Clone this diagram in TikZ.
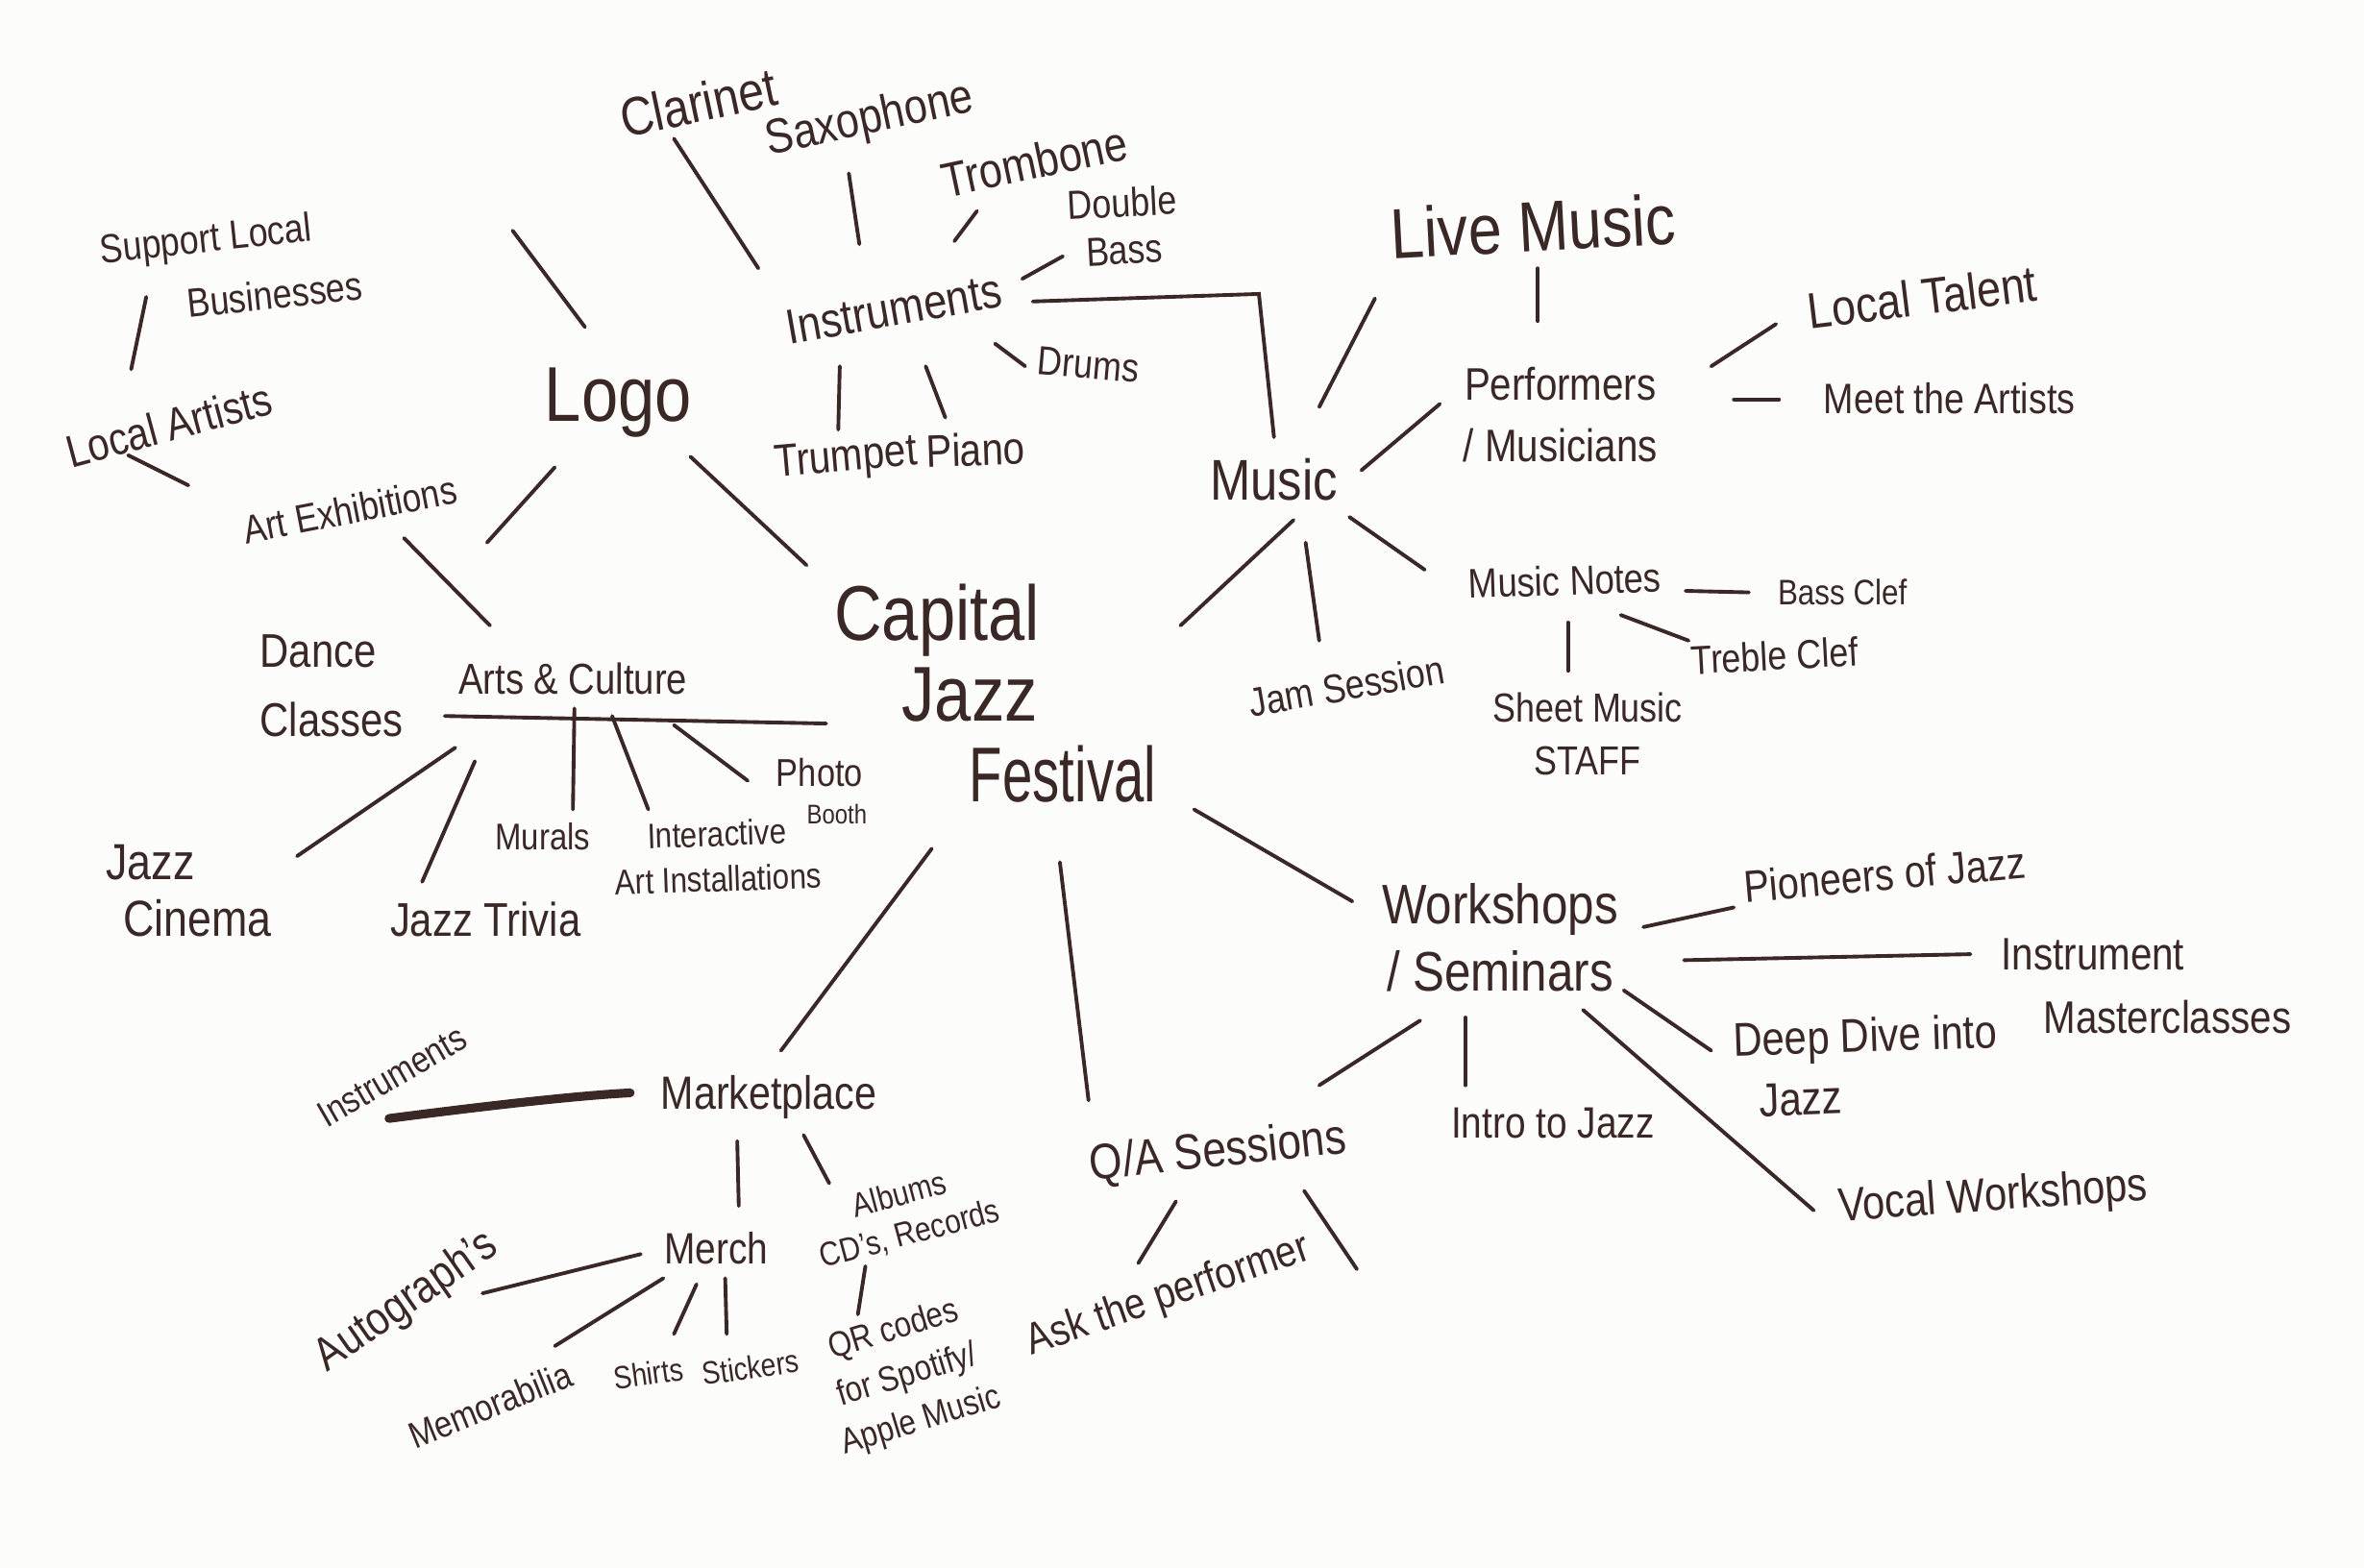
\documentclass[tikz,border=0pt]{standalone}
\usepackage{graphicx}
\usepackage{fontspec}
\setmainfont[FakeStretch=0.85]{Liberation Sans}
\definecolor{ink}{RGB}{58,40,38}
\definecolor{paper}{RGB}{252,252,251}
\tikzset{
  lbl/.style={text=ink, inner sep=0.5pt},
  fs/.style 2 args={font=\fontsize{#1}{#2}\selectfont},
  conn/.style={draw=ink, line width=1.1pt, line cap=round},
  thick conn/.style={draw=ink, line width=2.6pt, line cap=round}
}
\begin{document}
\begin{tikzpicture}[x=0.015689cm, y=-0.015689cm]
\fill[paper] (0,0) rectangle (1568,1040);
\useasboundingbox (0,0) rectangle (1568,1040);

% ---------- centre ----------
\node[lbl, fs={23}{24}, align=left, anchor=west, inner sep=0] (cjf) at (553,460) {Capital\\\hspace*{20pt}Jazz\\\hspace*{40pt}\scalebox{0.82}[1]{Festival}};

% ---------- logo / arts ----------
\node[lbl, fs={23}{26}] (logo) at (410,267) {Logo};
\node[lbl, fs={12}{18.7}, align=left, anchor=west, inner sep=0, rotate=6] (support) at (68,186) {Support Local\\\hspace*{24pt}Businesses};
\node[lbl, fs={13.5}{16}, rotate=15] (localart) at (112,282) {Local Artists};
\node[lbl, fs={11.8}{14}, rotate=11] (artex) at (232,338) {Art Exhibitions};
\node[lbl, fs={14}{20.5}, align=left] (dance) at (220,455) {Dance\\Classes};
\node[lbl, fs={12.8}{15}] (ac) at (380,450) {Arts \& Culture};
\node[lbl, fs={15}{17}, align=left, anchor=west, inner sep=0] (cinema) at (70,591) {Jazz\\\hspace*{5pt}Cinema};
\node[lbl, fs={14}{16}] (trivia) at (322,610) {Jazz Trivia};
\node[lbl, fs={11}{13}] (murals) at (360,555) {Murals};
\node[lbl, fs={10.5}{13.4}, align=center, rotate=2] (inter) at (476,568) {Interactive\\Art Installations};
\node[lbl, fs={11.5}{11}, align=left] (photo) at (545,525) {Photo\\{\fontsize{8}{9}\selectfont\hspace*{9pt}Booth}};

% ---------- instruments ----------
\node[lbl, fs={14.5}{17}, rotate=10] (instr) at (593,205) {Instruments};
\node[lbl, fs={16}{18}, rotate=12] (clar) at (463,68) {Clarinet};
\node[lbl, fs={14.5}{17}, rotate=12] (sax) at (577,80) {Saxophone};
\node[lbl, fs={14.5}{17}, rotate=12] (tromb) at (686,107) {Trombone};
\node[lbl, fs={12}{14}, align=center, rotate=3] (dbass) at (745,150) {Double\\Bass};
\node[lbl, fs={12}{14}, rotate=-5] (drums) at (722,242) {Drums};
\node[lbl, fs={13.5}{16}, rotate=5] (trumpet) at (561,305) {Trumpet};
\node[lbl, fs={13.5}{16}, rotate=2] (piano) at (647,298) {Piano};

% ---------- music ----------
\node[lbl, fs={17}{20}] (music) at (845,318) {Music};
\node[lbl, fs={21}{24}, rotate=3] (livemusic) at (1017,150) {Live Music};
\node[lbl, fs={13.5}{18}, align=center] (perf) at (1035,275) {Performers\\/ Musicians};
\node[lbl, fs={15}{17}, rotate=7] (localtalent) at (1275,197) {Local Talent};
\node[lbl, fs={12.6}{15}] (meet) at (1293,264) {Meet the Artists};
\node[lbl, fs={12.2}{14}, rotate=2] (musicnotes) at (1038,385) {Music Notes};
\node[lbl, fs={10.5}{12}] (bassclef) at (1222,393) {Bass Clef};
\node[lbl, fs={12}{14}, rotate=3] (trebleclef) at (1177,435) {Treble Clef};
\node[lbl, fs={12}{15.6}, align=center] (sheet) at (1053,487) {Sheet Music\\STAFF};
\node[lbl, fs={12}{14}, rotate=10] (jam) at (893,455) {Jam Session};

% ---------- workshops ----------
\node[lbl, fs={16.5}{20}, align=center] (work) at (995,622) {Workshops\\/ Seminars};
\node[lbl, fs={13.3}{15}, rotate=5] (pioneers) at (1250,580) {Pioneers of Jazz};
\node[lbl, fs={13.5}{18.7}, align=left, anchor=west, inner sep=0] (instmaster) at (1327,654) {Instrument\\\hspace*{12.5pt}Masterclasses};
\node[lbl, fs={14}{18}, align=left, anchor=west, inner sep=0, rotate=2] (deepdive) at (1150,710) {Deep Dive into\\\hspace*{7pt}Jazz};
\node[lbl, fs={14}{16}, rotate=4] (vocal) at (1322,795) {Vocal Workshops};
\node[lbl, fs={13}{15}] (intro) at (1030,745) {Intro to Jazz};
\node[lbl, fs={14.8}{17}, rotate=6] (qa) at (808,765) {Q/A Sessions};
\node[lbl, fs={13}{15}, rotate=19] (ask) at (775,860) {Ask the performer};

% ---------- marketplace ----------
\node[lbl, fs={13.8}{16}] (market) at (510,728) {Marketplace};
\node[lbl, fs={11}{13}, rotate=30] (instr2) at (260,714) {Instruments};
\node[lbl, fs={13}{15}] (merch) at (475,828) {Merch};
\node[lbl, fs={10}{12}, align=center, rotate=15] (albums) at (600,806) {Albums\\CD's, Records};
\node[lbl, fs={13.8}{16}, rotate=35] (autog) at (270,864) {Autograph's};
\node[lbl, fs={11}{13}, rotate=22] (memor) at (325,932) {Memorabilia};
\node[lbl, fs={9.5}{12}, rotate=8] (shirts) at (430,911) {Shirts};
\node[lbl, fs={9.5}{12}, rotate=8] (stickers) at (498,907) {Stickers};
\node[lbl, fs={10.5}{14}, align=center, rotate=17] (qr) at (602,913) {QR codes\\for Spotify/\\Apple Music};

% free ends
\coordinate (logofree) at (340,153);
\coordinate (qafree) at (900,842);

% ---------- connectors ----------
% logo / arts
\draw[conn] ([shift={(48,36)}]logo.center) -- ([shift={(-18,-85)}]cjf.west);
\draw[conn] ([shift={(-22,-50)}]logo.center) -- (logofree);
\draw[conn] ([shift={(-42,43)}]logo.center) -- ([shift={(91,22)}]artex.center);
\draw[conn] ([shift={(36,19)}]artex.center) -- ([shift={(-55,-35)}]ac.center);
\draw[conn] ([shift={(-27,20)}]localart.center) -- ([shift={(-107,-16)}]artex.center);
\draw[conn] ([shift={(29,11)}]support.west) -- ([shift={(-25,-37)}]localart.center);
\draw[conn] ([shift={(-85,25)}]ac.center) -- ([shift={(-5,20)}]cjf.west);
\draw[conn] ([shift={(1,20)}]ac.center) -- ([shift={(20,-18)}]murals.center);
\draw[conn] ([shift={(26,25)}]ac.center) -- ([shift={(-46,-31)}]inter.center);
\draw[conn] ([shift={(67,31)}]ac.center) -- ([shift={(-49,-7)}]photo.center);
\draw[conn] ([shift={(-65,55)}]ac.center) -- ([shift={(-42,-25)}]trivia.center);
\draw[conn] ([shift={(-78,46)}]ac.center) -- ([shift={(127,-23)}]cinema.west);

% marketplace
\draw[conn] ([shift={(65,103)}]cjf.west) -- ([shift={(8,-31)}]market.center);
\draw[thick conn] ([shift={(-92,-3)}]market.center) .. controls ([shift={(-130,-1)}]market.center) and ([shift={(60,20)}]instr2.center) .. ([shift={(-2,28)}]instr2.center);
\draw[conn] ([shift={(-21,29)}]market.center) -- ([shift={(15,-28)}]merch.center);
\draw[conn] ([shift={(23,25)}]market.center) -- ([shift={(-50,-21)}]albums.center);
\draw[conn] ([shift={(-50,4)}]merch.center) -- ([shift={(50,-6)}]autog.center);
\draw[conn] ([shift={(-35,20)}]merch.center) -- ([shift={(43,-39)}]memor.center);
\draw[conn] ([shift={(-13,24)}]merch.center) -- ([shift={(17,-26)}]shirts.center);
\draw[conn] ([shift={(6,20)}]merch.center) -- ([shift={(-16,-22)}]stickers.center);
\draw[conn] ([shift={(-26,34)}]albums.center) -- ([shift={(-33,-41)}]qr.center);

% Q/A and workshops
\draw[conn] ([shift={(150,112)}]cjf.west) -- ([shift={(-86,-35)}]qa.center);
\draw[conn] ([shift={(-28,32)}]qa.center) -- ([shift={(-20,-22)}]ask.center);
\draw[conn] ([shift={(57,25)}]qa.center) -- (qafree);
\draw[conn] ([shift={(239,77)}]cjf.west) -- ([shift={(-98,-24)}]work.center);
\draw[conn] ([shift={(-53,55)}]work.center) -- ([shift={(67,-45)}]qa.center);
\draw[conn] ([shift={(-23,53)}]work.center) -- ([shift={(-58,-25)}]intro.center);
\draw[conn] ([shift={(95,-7)}]work.center) -- ([shift={(-100,22)}]pioneers.center);
\draw[conn] ([shift={(122,15)}]work.center) -- ([shift={(-20,-21)}]instmaster.west);
\draw[conn] ([shift={(82,35)}]work.center) -- ([shift={(-15,-13)}]deepdive.west);
\draw[conn] ([shift={(55,48)}]work.center) -- ([shift={(-119,8)}]vocal.center);

% music
\draw[conn] ([shift={(230,-45)}]cjf.west) -- ([shift={(13,27)}]music.center);
\draw[conn] ([shift={(21,42)}]music.center) -- ([shift={(-18,-30)}]jam.center);
\draw[conn] ([shift={(50,25)}]music.center) -- ([shift={(-93,-7)}]musicnotes.center);
\draw[conn] ([shift={(58,-6)}]music.center) -- ([shift={(-80,-7)}]perf.center);
\draw[conn] ([shift={(30,-48)}]music.center) -- ([shift={(-105,48)}]livemusic.center);
\draw[conn] ([shift={(92,-5)}]instr.center) -- ([shift={(242,-10)}]instr.center) -- ([shift={(0,-28)}]music.center);
\draw[conn] ([shift={(3,28)}]livemusic.center) -- ([shift={(-15,-62)}]perf.center);
\draw[conn] ([shift={(100,-32)}]perf.center) -- ([shift={(-97,18)}]localtalent.center);
\draw[conn] ([shift={(115,-10)}]perf.center) -- ([shift={(-113,1)}]meet.center);
\draw[conn] ([shift={(80,7)}]musicnotes.center) -- ([shift={(-62,0)}]bassclef.center);
\draw[conn] ([shift={(37,23)}]musicnotes.center) -- ([shift={(-57,-10)}]trebleclef.center);
\draw[conn] ([shift={(2,28)}]musicnotes.center) -- ([shift={(-13,-42)}]sheet.center);

% instruments
\draw[conn] ([shift={(-90,-27)}]instr.center) -- ([shift={(-16,24)}]clar.center);
\draw[conn] ([shift={(-23,-43)}]instr.center) -- ([shift={(-14,35)}]sax.center);
\draw[conn] ([shift={(40,-45)}]instr.center) -- ([shift={(-38,33)}]tromb.center);
\draw[conn] ([shift={(85,-20)}]instr.center) -- ([shift={(-40,20)}]dbass.center);
\draw[conn] ([shift={(67,23)}]instr.center) -- ([shift={(-42,1)}]drums.center);
\draw[conn] ([shift={(-36,38)}]instr.center) -- ([shift={(-5,-20)}]trumpet.center);
\draw[conn] ([shift={(21,38)}]instr.center) -- ([shift={(-20,-21)}]piano.center);
\end{tikzpicture}
\end{document}
